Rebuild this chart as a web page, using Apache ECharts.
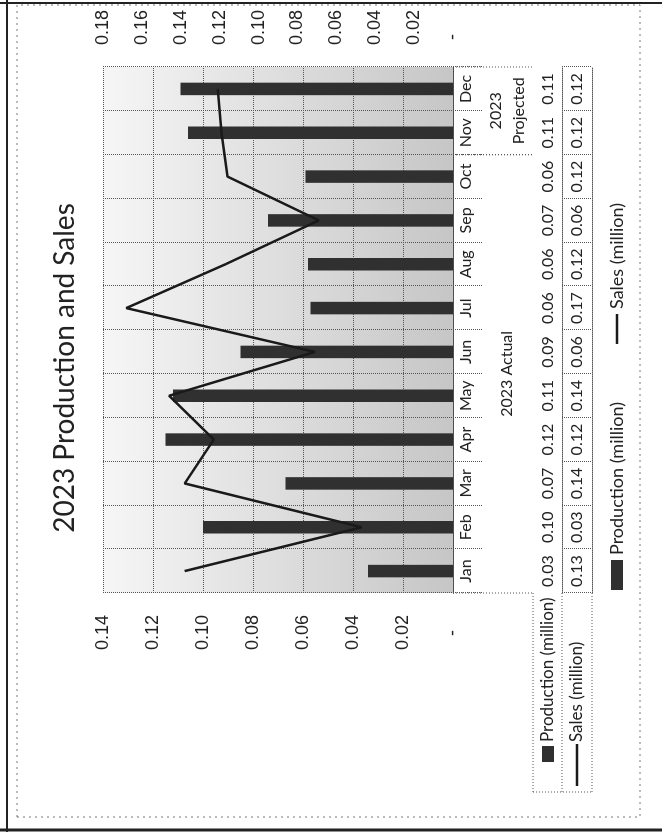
<!DOCTYPE html>
<html>
<head>
<meta charset="utf-8">
<title>2023 Production and Sales</title>
<script src="https://cdn.jsdelivr.net/npm/echarts@6/dist/echarts.min.js"></script>
<style>
html, body { margin: 0; padding: 0; background: #fff; width: 662px; height: 832px; overflow: hidden; }
/* the scanned page is turned on its side, so the chart is drawn upright and rotated */
#chart { position: absolute; left: 0; top: 0; width: 832px; height: 662px;
         transform-origin: 0 0; transform: translate(0, 832px) rotate(-90deg); }
</style>
</head>
<body>
<div id="chart"></div>
<script>
var months = ['Jan', 'Feb', 'Mar', 'Apr', 'May', 'Jun', 'Jul', 'Aug', 'Sep', 'Oct', 'Nov', 'Dec'];
var production = [0.034, 0.100, 0.067, 0.115, 0.112, 0.085, 0.057, 0.058, 0.074, 0.059, 0.106, 0.109];
var sales = [0.138, 0.047, 0.138, 0.123, 0.146, 0.071, 0.168, 0.117, 0.069, 0.116, 0.119, 0.121];
// values as printed in the data table under the chart
var productionTable = ['0.03', '0.10', '0.07', '0.12', '0.11', '0.09', '0.06', '0.06', '0.07', '0.06', '0.11', '0.11'];
var salesTable = ['0.13', '0.03', '0.14', '0.12', '0.14', '0.06', '0.17', '0.12', '0.06', '0.12', '0.12', '0.12'];
var groupNames = ['2023 Actual', '2023\nProjected'];
var groupStart = [0, 10];
var groupEnd = [9, 11];
var leftAxis = { min: 0, max: 0.14, interval: 0.02 };
var rightAxis = { min: 0, max: 0.18, interval: 0.02 };

var calibri = 'Lato, "Open Sans", sans-serif';
var arial = '"Liberation Sans", Arial, sans-serif';
var dotted = { color: '#555', type: 'dotted', width: 1 };

var chart = echarts.init(document.getElementById('chart'));

function tableRow(labels, offset) {
    return {
        type: 'category', data: months, position: 'bottom', offset: offset,
        axisLine: { lineStyle: dotted },
        axisTick: { show: true, interval: 0, length: 29, lineStyle: dotted },
        axisLabel: {
            interval: 0, margin: 7, fontSize: 16, fontFamily: calibri, color: '#222',
            formatter: function (v, i) { return labels[i]; }
        }
    };
}

chart.setOption({
    animation: false,
    backgroundColor: '#fff',
    title: {
        text: '2023 Production and Sales',
        left: 459, top: 46, textAlign: 'center',
        textStyle: { fontSize: 28, fontWeight: 'normal', fontFamily: calibri, color: '#222' }
    },
    legend: {
        left: 237, top: 603, itemGap: 58, itemWidth: 30, itemHeight: 12,
        textStyle: { fontSize: 18, fontFamily: calibri, color: '#222' },
        data: [
            { name: 'Production (million)', icon: 'rect', itemStyle: { color: '#303030' } },
            { name: 'Sales (million)', icon: 'path://M0,0H30V2.5H0Z', itemStyle: { color: '#1a1a1a' } }
        ]
    },
    grid: {
        left: 239, right: 67, top: 103, bottom: 209,
        show: true, borderWidth: 0,
        backgroundColor: new echarts.graphic.LinearGradient(0, 0, 0, 1, [
            { offset: 0, color: '#f6f6f6' },
            { offset: 1, color: '#c6c6c6' }
        ])
    },
    xAxis: [
        {
            type: 'category', data: months, position: 'bottom',
            axisLine: { lineStyle: { color: '#333', width: 1 } },
            axisTick: { show: true, interval: 0, length: 25, lineStyle: dotted },
            axisLabel: { interval: 0, margin: 5, fontSize: 16, fontFamily: calibri, color: '#222' },
            splitLine: { show: true, interval: 0, lineStyle: dotted }
        },
        tableRow(productionTable, 80),
        tableRow(salesTable, 109),
        {
            type: 'category', data: months, position: 'bottom', offset: 139,
            axisLine: { lineStyle: dotted }, axisTick: { show: false }, axisLabel: { show: false }
        }
    ],
    yAxis: [
        {
            type: 'value', position: 'left', min: leftAxis.min, max: leftAxis.max, interval: leftAxis.interval,
            axisLine: { show: false }, axisTick: { show: false },
            axisLabel: {
                margin: 22, fontSize: 18, fontFamily: arial, color: '#222',
                formatter: function (v) { return v === 0 ? '-   ' : v.toFixed(2); }
            },
            splitLine: { show: true, lineStyle: dotted }
        },
        {
            type: 'value', position: 'right', min: rightAxis.min, max: rightAxis.max, interval: rightAxis.interval,
            axisLine: { show: false }, axisTick: { show: false },
            axisLabel: {
                margin: 22, fontSize: 18, fontFamily: arial, color: '#222',
                formatter: function (v) { return v === 0 ? ' -' : v.toFixed(2); }
            },
            splitLine: { show: false }
        }
    ],
    series: [
        {
            name: 'Production (million)', type: 'bar', data: production,
            xAxisIndex: 0, yAxisIndex: 0, barWidth: 12.5,
            itemStyle: { color: '#303030' }
        },
        {
            name: 'Sales (million)', type: 'line', data: sales,
            xAxisIndex: 0, yAxisIndex: 1, symbol: 'none',
            lineStyle: { color: '#1a1a1a', width: 2.5 }
        }
    ]
});

// group row of the table, row headings and the scanned page frame
var step = chart.convertToPixel({ xAxisIndex: 0 }, months[1]) - chart.convertToPixel({ xAxisIndex: 0 }, months[0]);
var graphics = [];
groupNames.forEach(function (name, g) {
    var x0 = chart.convertToPixel({ xAxisIndex: 0 }, months[groupStart[g]]) - step / 2;
    var x1 = chart.convertToPixel({ xAxisIndex: 0 }, months[groupEnd[g]]) + step / 2;
    graphics.push({
        type: 'text', x: (x0 + x1) / 2, y: 507,
        style: { text: name, fontSize: 16, fontFamily: calibri, fill: '#222', align: 'center', verticalAlign: 'middle', lineHeight: 23 }
    });
    [x0, x1].forEach(function (x) {
        graphics.push({ type: 'line', shape: { x1: x, y1: 453, x2: x, y2: 533 }, style: { stroke: '#555', lineDash: [1, 2] } });
    });
});

// row headings left of the table
graphics.push(
    { type: 'line', shape: { x1: 40, y1: 533, x2: 239, y2: 533 }, style: { stroke: '#555', lineDash: [1, 2] } },
    { type: 'line', shape: { x1: 40, y1: 562, x2: 239, y2: 562 }, style: { stroke: '#555', lineDash: [1, 2] } },
    { type: 'line', shape: { x1: 40, y1: 592, x2: 239, y2: 592 }, style: { stroke: '#555', lineDash: [1, 2] } },
    { type: 'line', shape: { x1: 40, y1: 533, x2: 40, y2: 592 }, style: { stroke: '#555', lineDash: [1, 2] } },
    { type: 'rect', shape: { x: 70, y: 542, width: 16, height: 12 }, style: { fill: '#303030' } },
    { type: 'text', x: 90, y: 548, style: { text: 'Production (million)', fontSize: 17, fontFamily: calibri, fill: '#222', align: 'left', verticalAlign: 'middle' } },
    { type: 'line', shape: { x1: 46, y1: 577, x2: 88, y2: 577 }, style: { stroke: '#1a1a1a', lineWidth: 2.5 } },
    { type: 'text', x: 90, y: 577, style: { text: 'Sales (million)', fontSize: 17, fontFamily: calibri, fill: '#222', align: 'left', verticalAlign: 'middle' } }
);

// page frame of the scan
graphics.push(
    { type: 'rect', shape: { x: 15, y: 17, width: 812, height: 623 }, style: { fill: 'none', stroke: '#777', lineDash: [2, 4] } },
    { type: 'line', shape: { x1: 829, y1: 0, x2: 829, y2: 662 }, style: { stroke: '#222', lineWidth: 2 } },
    { type: 'line', shape: { x1: 0, y1: 7, x2: 832, y2: 7 }, style: { stroke: '#222', lineWidth: 2 } },
    { type: 'line', shape: { x1: 2, y1: 0, x2: 2, y2: 662 }, style: { stroke: '#222', lineWidth: 3 } }
);

chart.setOption({ graphic: graphics });
</script>
</body>
</html>
